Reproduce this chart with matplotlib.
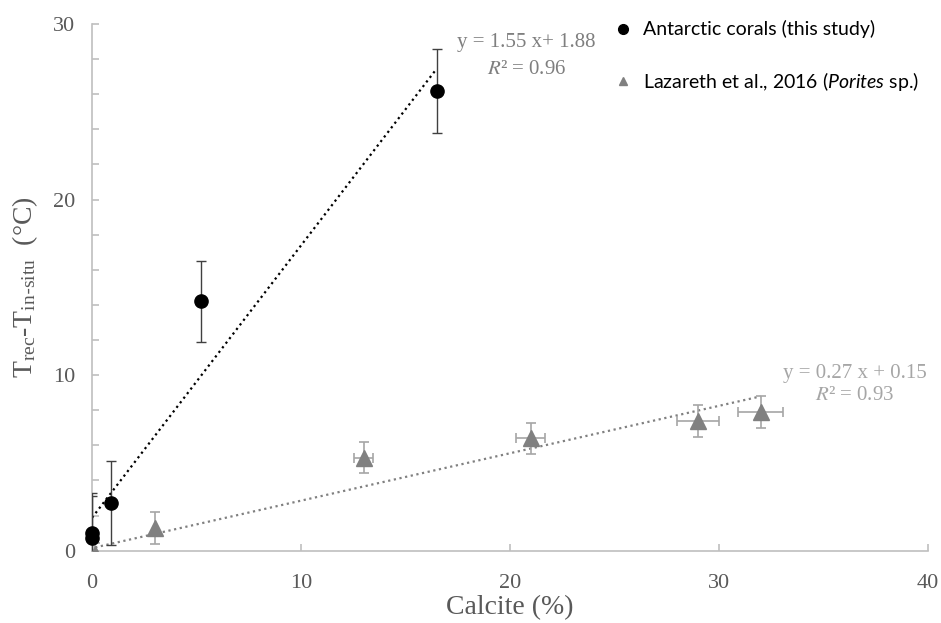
import numpy as np
import matplotlib
matplotlib.use("Agg")
import matplotlib.pyplot as plt
from matplotlib.lines import Line2D

plt.rcParams['font.family'] = ['Liberation Serif', 'DejaVu Serif']
plt.rcParams['mathtext.fontset'] = 'custom'
plt.rcParams['mathtext.rm'] = 'Lato'
plt.rcParams['mathtext.it'] = 'Lato:italic'

# Antarctic corals (this study)
ant_x = [0.0, 0.0, 0.9, 5.2, 16.5]
ant_y = [1.0, 0.7, 2.7, 14.2, 26.2]
ant_yerr = [2.3, 2.4, 2.4, 2.3, 2.4]
ant_slope, ant_icpt, ant_r2 = 1.55, 1.88, 0.96

# Lazareth et al., 2016 (Porites sp.)
laz_x = [0.15, 3.0, 13.0, 21.0, 29.0, 32.0]
laz_y = [-0.2, 1.3, 5.3, 6.4, 7.4, 7.9]
laz_xerr = [0.0, 0.0, 0.45, 0.7, 1.0, 1.1]
laz_yerr = [0.65, 0.9, 0.9, 0.9, 0.9, 0.9]
laz_slope, laz_icpt, laz_r2 = 0.27, 0.15, 0.93

fig = plt.figure(figsize=(9.41, 6.23), dpi=100)
ax = fig.add_axes([0.0978, 0.116, 0.888, 0.8455])

# trend lines
xa = np.array([min(ant_x), max(ant_x)])
ax.plot(xa, ant_slope * xa + ant_icpt, color='black', ls=(0, (1, 1.6)), lw=1.6, zorder=2)
xl = np.array([min(laz_x), max(laz_x)])
ax.plot(xl, laz_slope * xl + laz_icpt, color='#808080', ls=(0, (1, 1.6)), lw=1.6, zorder=2)

# error bars
ax.errorbar(ant_x, ant_y, yerr=ant_yerr, fmt='none', ecolor='#404040', elinewidth=1,
            capsize=3.5, capthick=1, zorder=3)
ax.errorbar(laz_x, laz_y, xerr=laz_xerr, yerr=laz_yerr, fmt='none', ecolor='#a6a6a6',
            elinewidth=1.2, capsize=3.5, capthick=1.2, zorder=3)

ax.plot(ant_x, ant_y, 'o', color='black', ms=9.5, zorder=4, clip_on=False)
ax.plot(laz_x, laz_y, '^', color='#808080', ms=11, zorder=4)

ax.set_xlim(0, 40)
ax.set_ylim(0, 30)
ax.set_xticks([0, 10, 20, 30, 40])
ax.set_yticks([0, 10, 20, 30])
ax.set_yticks(np.arange(0, 31, 2), minor=True)
for s in ['top', 'right']:
    ax.spines[s].set_visible(False)
for s in ['left', 'bottom']:
    ax.spines[s].set_color('#bfbfbf')
    ax.spines[s].set_linewidth(1.2)
ax.tick_params(which='both', direction='in', color='#bfbfbf', width=1.2, labelsize=16,
               labelcolor='#595959')
ax.tick_params(which='major', length=5)
ax.tick_params(which='minor', length=5)
ax.tick_params(axis='y', pad=12)
ax.tick_params(axis='x', pad=17)

ax.set_xlabel('Calcite (%)', fontsize=20, color='#595959')
ax.xaxis.set_label_coords(0.5, -0.085)
ax.set_ylabel(r'$\mathregular{T_{rec}}$-$\mathregular{T_{in\text{-}situ}}$  (°C)', fontsize=20,
              color='#595959')
ax.yaxis.set_label_coords(-0.062, 0.5)

# fit equations
ax.text(0.52, 0.964, 'y = %.2f x+ %.2f' % (ant_slope, ant_icpt), transform=ax.transAxes,
        fontsize=15, color='#7f7f7f', ha='center', va='center')
ax.text(0.52, 0.913, r'$\mathit{R}$² = %.2f' % ant_r2, transform=ax.transAxes,
        fontsize=15, color='#7f7f7f', ha='center', va='center', math_fontfamily='stix')
ax.text(0.913, 0.337, 'y = %.2f x + %.2f' % (laz_slope, laz_icpt), transform=ax.transAxes,
        fontsize=15, color='#a6a6a6', ha='center', va='center')
ax.text(0.913, 0.295, r'$\mathit{R}$² = %.2f' % laz_r2, transform=ax.transAxes,
        fontsize=15, color='#a6a6a6', ha='center', va='center', math_fontfamily='stix')

handles = [Line2D([], [], ls='none', marker='o', color='black', ms=7),
           Line2D([], [], ls='none', marker='^', color='#808080', ms=6)]
labels = ['Antarctic corals (this study)', r'Lazareth et al., 2016 ($\mathit{Porites}$ sp.)']
leg = ax.legend(handles, labels, loc='upper left', bbox_to_anchor=(0.6, 1.04), frameon=False,
                prop={'family': 'Lato', 'size': 14}, labelspacing=1.6, handletextpad=0.45,
                handlelength=1.2)

fig.savefig('out.png', dpi=100)
